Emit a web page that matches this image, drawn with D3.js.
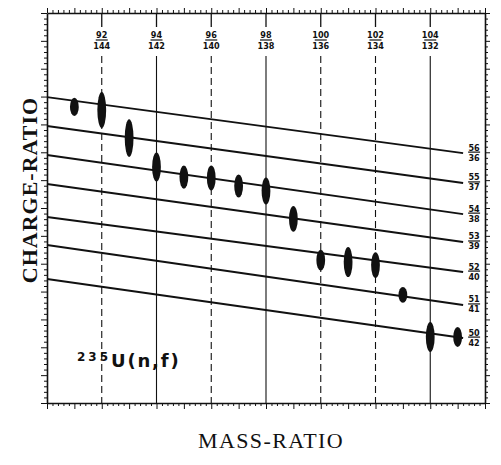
<!DOCTYPE html>
<html>
<head>
  <meta charset="utf-8">
  <title>235U(n,f) charge ratio vs mass ratio</title>
  <script src="https://cdn.jsdelivr.net/npm/d3@7"></script>
  <style>
    body { margin: 0; background: #fff; }
    .axis path, .axis line { stroke: #111; }
    .axis path { stroke-width: 1.6; }
    .axis line { stroke-width: 1; }
    .frac { font-family: "DejaVu Sans Condensed", "Liberation Sans Narrow", sans-serif; font-weight: bold; font-size: 9px; fill: #111; }
  </style>
</head>
<body>
<svg width="501" height="465"></svg>
<script>

// mass-ratio markers (light / heavy fragment mass)
var massLight = [92, 94, 96, 98, 100, 102, 104];
var massHeavy = [144, 142, 140, 138, 136, 134, 132];
var massDashed = [true, false, true, false, true, true, false];

// charge-ratio lines (heavy / light fragment charge), y in arbitrary axis units
var zHeavy = [56, 55, 54, 53, 52, 51, 50];
var zLight = [36, 37, 38, 39, 40, 41, 42];
var lineStartMass = 90, lineEndMass = 105.2;
var lineStartY = [10.98, 9.94, 8.90, 7.86, 6.68, 5.67, 4.45];
var lineEndY = [8.97, 7.90, 6.78, 5.78, 4.70, 3.52, 2.33];

// measured fragment groups
var groupMass = [91, 92, 93, 94, 95, 96, 97, 98, 99, 100, 101, 102, 103, 104, 105];
var groupY = [10.63, 10.52, 9.51, 8.47, 8.11, 8.08, 7.79, 7.61, 6.61, 5.13, 5.06, 4.95, 3.88, 2.37, 2.37];
var groupSpread = [0.65, 1.29, 1.35, 1.04, 0.83, 0.90, 0.83, 0.97, 0.93, 0.75, 1.08, 0.93, 0.57, 1.08, 0.72];

var svg = d3.select("svg");

var x = d3.scaleLinear().domain([90, 106]).range([47, 485]),
    y = d3.scaleLinear().domain([0, 14]).range([403, 13]);

var xMinor = d3.range(90, 106.01, 0.2).map(function(v) { return +v.toFixed(1); }),
    yMinor = d3.range(0, 14.01, 0.2).map(function(v) { return +v.toFixed(1); });

function isMajor(v) { return Math.abs(v - Math.round(v)) < 1e-6; }

function tickLen(sel, big, small) {
  sel.selectAll(".tick line").each(function(d) {
    var l = d3.select(this);
    var len = isMajor(d) ? big : small;
    if (l.attr("x2") && +l.attr("x2") !== 0) l.attr("x2", (+l.attr("x2") > 0 ? 1 : -1) * len);
    if (l.attr("y2") && +l.attr("y2") !== 0) l.attr("y2", (+l.attr("y2") > 0 ? 1 : -1) * len);
  });
  sel.selectAll(".tick text").remove();
}

svg.append("g")
    .attr("class", "axis")
    .attr("transform", "translate(0," + y(14) + ")")
    .call(d3.axisTop(x).tickValues(xMinor).tickSize(3).tickSizeOuter(0))
    .call(tickLen, 5, 3);

svg.append("g")
    .attr("class", "axis")
    .attr("transform", "translate(0," + y(0) + ")")
    .call(d3.axisBottom(x).tickValues(xMinor).tickSize(3).tickSizeOuter(0))
    .call(tickLen, 6, 3);

svg.append("g")
    .attr("class", "axis")
    .attr("transform", "translate(" + x(90) + ",0)")
    .call(d3.axisLeft(y).tickValues(yMinor).tickSize(3).tickSizeOuter(0))
    .call(tickLen, 6, 3);

svg.append("g")
    .attr("class", "axis")
    .attr("transform", "translate(" + x(106) + ",0)")
    .call(d3.axisRight(y).tickValues(yMinor).tickSize(3).tickSizeOuter(0))
    .call(tickLen, 5, 3);

// mass markers: short tick under the top axis, label, then long line
var marks = svg.append("g");

massLight.forEach(function(m, i) {
  var cx = x(m);
  marks.append("line")
      .attr("x1", cx).attr("x2", cx)
      .attr("y1", y(14)).attr("y2", y(14) + 14)
      .attr("stroke", "#111").attr("stroke-width", 1.3);
  marks.append("line")
      .attr("x1", cx).attr("x2", cx)
      .attr("y1", 56).attr("y2", y(0))
      .attr("stroke", "#111").attr("stroke-width", 1.1)
      .attr("stroke-dasharray", massDashed[i] ? "7,4" : null);
  marks.append("text").attr("class", "frac")
      .attr("x", cx).attr("y", 38).attr("text-anchor", "middle")
      .text(m);
  marks.append("line")
      .attr("x1", cx - 6).attr("x2", cx + 6)
      .attr("y1", 40).attr("y2", 40)
      .attr("stroke", "#111").attr("stroke-width", 1.2);
  marks.append("text").attr("class", "frac")
      .attr("x", cx).attr("y", 48.5).attr("text-anchor", "middle")
      .text(massHeavy[i]);
});

// charge lines with their labels
var lines = svg.append("g");

zHeavy.forEach(function(z, i) {
  lines.append("line")
      .attr("x1", x(lineStartMass)).attr("y1", y(lineStartY[i]))
      .attr("x2", x(lineEndMass)).attr("y2", y(lineEndY[i]))
      .attr("stroke", "#111").attr("stroke-width", 2);
  var lx = x(lineEndMass) + 11,
      ly = y(lineEndY[i]) - 1;
  lines.append("text").attr("class", "frac")
      .attr("x", lx).attr("y", ly - 1.5).attr("text-anchor", "middle")
      .text(z);
  lines.append("line")
      .attr("x1", lx - 6).attr("x2", lx + 6)
      .attr("y1", ly).attr("y2", ly)
      .attr("stroke", "#111").attr("stroke-width", 1.2);
  lines.append("text").attr("class", "frac")
      .attr("x", lx).attr("y", ly + 8.5).attr("text-anchor", "middle")
      .text(zLight[i]);
});

// fragment groups
svg.append("g").selectAll("ellipse")
  .data(groupMass)
  .enter().append("ellipse")
    .attr("cx", function(d) { return x(d); })
    .attr("cy", function(d, i) { return y(groupY[i]); })
    .attr("rx", 4.4)
    .attr("ry", function(d, i) { return y(0) - y(groupSpread[i] / 2); })
    .attr("fill", "#111");

// texts
svg.append("text")
    .attr("transform", "translate(37,190) rotate(-90)")
    .attr("text-anchor", "middle")
    .style("font-family", "'Liberation Serif', 'DejaVu Serif', serif")
    .style("font-weight", "bold")
    .style("font-size", "22px")
    .style("letter-spacing", "1px")
    .attr("fill", "#111")
    .text("CHARGE-RATIO");

svg.append("text")
    .attr("x", 271).attr("y", 448)
    .attr("text-anchor", "middle")
    .style("font-family", "'Liberation Serif', 'DejaVu Serif', serif")
    .style("font-size", "22px")
    .style("letter-spacing", "1.4px")
    .attr("fill", "#111")
    .text("MASS-RATIO");

var label = svg.append("text")
    .attr("x", 77).attr("y", 367)
    .style("font-family", "'DejaVu Sans', sans-serif")
    .style("font-weight", "bold")
    .attr("fill", "#111");
label.append("tspan")
    .style("font-size", "12px")
    .style("letter-spacing", "3px")
    .attr("dy", "-6")
    .text("235");
label.append("tspan")
    .style("font-size", "18px")
    .style("letter-spacing", "1.8px")
    .attr("dy", "6")
    .text("U(n,f)");

</script>
</body>
</html>
